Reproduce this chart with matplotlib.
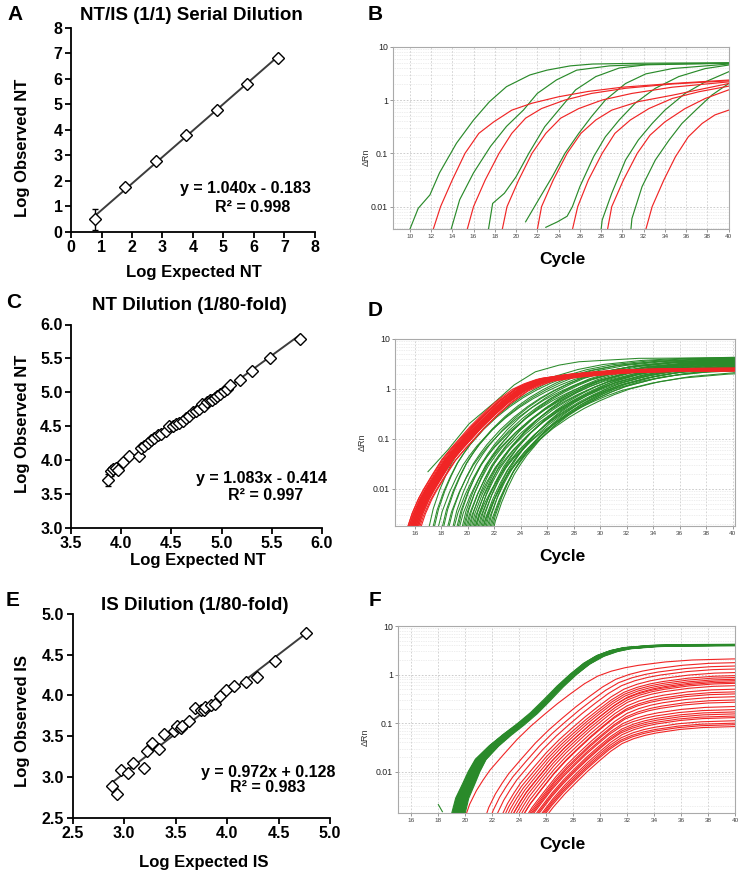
import numpy as np
import matplotlib
matplotlib.use("Agg")
import matplotlib.pyplot as plt
from matplotlib.ticker import LogLocator, NullFormatter

plt.rcParams['font.family'] = ['Liberation Sans', 'DejaVu Sans']

# ---------------- scatter data ----------------
a_expected = [0.78, 1.78, 2.78, 3.78, 4.78, 5.78, 6.78]
a_observed = [0.50, 1.75, 2.78, 3.80, 4.78, 5.80, 6.83]
a_err = [0.42, 0.08, 0.05, 0.05, 0.04, 0.04, 0.04]
a_fit = (1.040, -0.183)

c_expected = [3.87, 3.90, 3.92, 3.95, 3.97, 4.02, 4.08, 4.18, 4.20, 4.23, 4.27, 4.30, 4.33,
              4.37, 4.40, 4.45, 4.48, 4.52, 4.55, 4.58, 4.62, 4.65, 4.68, 4.72, 4.75, 4.77,
              4.80, 4.82, 4.85, 4.88, 4.90, 4.93, 4.95, 4.98, 5.02, 5.05, 5.08, 5.18, 5.30,
              5.48, 5.78]
c_observed = [3.70, 3.83, 3.87, 3.88, 3.85, 3.97, 4.05, 4.06, 4.18, 4.20, 4.25, 4.30, 4.32,
              4.36, 4.38, 4.42, 4.50, 4.50, 4.53, 4.55, 4.58, 4.62, 4.65, 4.70, 4.72, 4.75,
              4.82, 4.80, 4.85, 4.88, 4.88, 4.92, 4.95, 4.98, 5.02, 5.05, 5.10, 5.18, 5.32,
              5.50, 5.78]
c_err = [0.09, 0.07, 0.06, 0.06, 0.05, 0.04, 0.04, 0.03, 0.03, 0.03, 0.03, 0.03, 0.03,
         0.02, 0.02, 0.02, 0.02, 0.02, 0.02, 0.02, 0.02, 0.02, 0.02, 0.02, 0.02, 0.02,
         0.02, 0.02, 0.02, 0.02, 0.02, 0.02, 0.02, 0.02, 0.02, 0.02, 0.02, 0.03, 0.03,
         0.03, 0.02]
c_fit = (1.083, -0.414)

e_expected = [2.88, 2.93, 2.97, 3.04, 3.09, 3.19, 3.22, 3.27, 3.34, 3.39, 3.48, 3.51, 3.55,
              3.56, 3.63, 3.69, 3.75, 3.78, 3.79, 3.84, 3.88, 3.93, 3.99, 4.07, 4.18, 4.29,
              4.47, 4.77]
e_observed = [2.89, 2.79, 3.08, 3.05, 3.17, 3.11, 3.32, 3.41, 3.34, 3.52, 3.56, 3.62, 3.60,
              3.62, 3.69, 3.84, 3.82, 3.82, 3.86, 3.88, 3.90, 3.99, 4.07, 4.12, 4.16, 4.22,
              4.42, 4.77]
e_fit = (0.972, 0.128)

# ---------------- panel B amplification curves (cycle, dRn) ----------------
b_green_cycles = [
    [10.0, 10.8, 11.9, 12.8, 14.4, 16.0, 17.5, 19.1, 21.3, 22.9, 25.1, 27.2, 31.9, 40.0],
    [13.9, 14.7, 16.0, 17.6, 19.1, 20.7, 22.0, 23.8, 25.7, 28.8, 33.5, 40.0],
    [17.4, 17.8, 18.9, 20.0, 21.2, 22.7, 24.0, 25.6, 27.5, 29.7, 32.2, 40.0],
    [20.9, 22.1, 23.4, 24.6, 25.9, 27.1, 28.4, 30.3, 32.2, 34.7, 40.0],
    [22.8, 23.9, 24.8, 25.3, 26.0, 27.3, 28.4, 29.7, 31.2, 33.1, 35.3, 37.8, 40.0],
    [28.0, 28.1, 29.0, 30.3, 31.5, 32.8, 34.0, 35.9, 37.8, 40.0],
    [30.8, 30.9, 31.85, 33.1, 34.4, 35.6, 36.9, 38.4, 40.0],
]
b_green_values = [
    [0.0037, 0.0093, 0.0166, 0.043, 0.155, 0.42, 0.93, 1.78, 2.95, 3.63, 4.37, 4.73, 4.9, 5.0],
    [0.0038, 0.0135, 0.043, 0.135, 0.32, 0.65, 1.33, 2.38, 3.63, 4.37, 4.73, 4.9],
    [0.0037, 0.0115, 0.0178, 0.0363, 0.1, 0.316, 0.646, 1.55, 2.75, 3.98, 4.57, 4.9],
    [0.0052, 0.0133, 0.0363, 0.1, 0.237, 0.49, 1.0, 2.04, 3.09, 3.89, 4.73],
    [0.0041, 0.0052, 0.0066, 0.01, 0.0237, 0.087, 0.204, 0.422, 0.871, 1.66, 2.75, 3.89, 4.53],
    [0.0037, 0.0056, 0.0178, 0.075, 0.178, 0.363, 0.646, 1.33, 2.19, 3.39],
    [0.0037, 0.006, 0.0237, 0.075, 0.178, 0.363, 0.646, 1.23, 2.04],
]
b_red_cycles = [
    [12.2, 12.9, 14.0, 15.2, 16.5, 17.9, 19.6, 21.5, 24.0, 26.8, 30.0, 34.7, 40.0],
    [15.4, 16.0, 17.1, 18.4, 19.6, 20.9, 22.4, 24.6, 27.1, 30.3, 34.7, 40.0],
    [18.7, 19.15, 20.25, 21.5, 22.8, 24.2, 25.9, 28.1, 30.9, 34.7, 40.0],
    [22.0, 22.4, 23.5, 24.8, 26.1, 27.5, 29.0, 31.5, 34.7, 40.0],
    [25.3, 25.8, 26.8, 28.1, 29.3, 30.75, 32.5, 34.7, 37.2, 40.0],
    [28.6, 29.0, 30.1, 31.4, 32.6, 34.0, 35.9, 37.8, 40.0],
    [32.2, 32.8, 33.9, 35.0, 36.2, 37.5, 38.7, 40.0],
]
b_red_values = [
    [0.0037, 0.01, 0.0316, 0.1, 0.237, 0.389, 0.646, 0.871, 1.15, 1.45, 1.74, 2.04, 2.37],
    [0.0037, 0.01, 0.0316, 0.1, 0.237, 0.457, 0.692, 1.0, 1.33, 1.66, 2.0, 2.29],
    [0.0037, 0.01, 0.0316, 0.1, 0.237, 0.457, 0.692, 1.0, 1.33, 1.74, 2.19],
    [0.0037, 0.01, 0.0316, 0.1, 0.237, 0.422, 0.646, 0.933, 1.23, 2.04],
    [0.0037, 0.01, 0.0316, 0.1, 0.237, 0.422, 0.692, 1.07, 1.43, 1.82],
    [0.0037, 0.01, 0.0316, 0.1, 0.219, 0.389, 0.692, 1.07, 1.55],
    [0.0037, 0.01, 0.0316, 0.087, 0.204, 0.363, 0.525, 0.646],
]

# ---------------- panels D / F: curve shapes (log10 dRn relative to plateau) ----------------
d_green_shape_dc = [0, 0.5, 1, 1.5, 2, 2.5, 3, 4, 5, 6, 7, 8, 9, 10, 12, 14, 17, 20, 25, 30, 40]
d_green_shape_g = [-3.6, -3.05, -2.68, -2.38, -2.12, -1.92, -1.74, -1.44, -1.19, -0.98, -0.8,
                   -0.65, -0.52, -0.41, -0.26, -0.16, -0.08, -0.04, -0.012, -0.004, 0]
d_red_shape_dc = [0, 0.5, 1.0, 1.4, 2.0, 2.8, 3.5, 4.15, 5, 6, 7, 8.3, 9.2, 10.2, 12.2, 14.2,
                  16.2, 20, 25, 40]
d_red_shape_g = [-3.3, -2.9, -2.6, -2.41, -2.15, -1.82, -1.6, -1.41, -1.16, -0.9, -0.66, -0.41,
                 -0.3, -0.21, -0.13, -0.08, -0.04, -0.012, -0.003, 0]
f_green_shape_dc = [0, 0.4, 0.9, 1.3, 1.8, 2.8, 3.8, 4.8, 5.8, 6.8, 7.8, 8.8, 9.8, 10.8, 11.8,
                    12.8, 14.8, 16.8, 20.8, 26, 40]
f_green_shape_g = [-3.6, -3.16, -2.86, -2.61, -2.36, -2.08, -1.85, -1.64, -1.41, -1.14, -0.86,
                   -0.61, -0.39, -0.23, -0.13, -0.07, -0.025, -0.01, -0.003, -0.001, 0]
f_red_shape_dc = [0, 0.5, 1, 1.5, 2, 3, 4, 5, 6, 7, 8, 9, 10, 11, 12, 13, 15, 17, 20, 25, 40]
f_red_shape_g = [-3.4, -3.0, -2.72, -2.5, -2.3, -1.98, -1.67, -1.40, -1.16, -0.93, -0.72, -0.52,
                 -0.36, -0.26, -0.19, -0.14, -0.07, -0.03, -0.008, -0.002, 0]

# per curve: cycle where it leaves the axis bottom, dRn at cycle 40, horizontal stretch
d_green_start = [17.1, 17.4, 17.5, 17.8, 18.1, 18.2, 18.5, 18.6, 18.9, 19.0, 19.2, 19.3, 19.4,
                 19.6, 19.7, 19.8, 19.9, 20.0, 20.1, 20.2, 20.3, 20.4, 20.5, 20.6, 20.7, 20.8,
                 20.9, 21.0, 21.1, 21.2, 21.3, 21.4, 21.5, 21.6, 21.7, 21.8, 21.9, 22.0, 21.2,
                 20.6]
d_green_end = [4.3, 4.0, 4.2, 3.7, 4.0, 4.1, 3.5, 3.9, 3.8, 3.3, 3.7, 3.9, 3.2, 3.6, 3.4, 3.8,
               3.1, 3.5, 2.9, 3.6, 3.2, 2.8, 3.4, 3.0, 3.5, 2.7, 3.2, 2.9, 3.3, 2.6, 2.5, 3.0,
               2.7, 3.1, 2.4, 2.6, 2.8, 2.3, 2.1, 2.0]
d_green_stretch = [0.95, 1.0, 0.97, 1.05, 1.0, 0.96, 1.08, 1.02, 0.98, 1.1, 1.04, 0.97, 1.12,
                   1.0, 1.06, 0.96, 1.1, 1.03, 1.14, 0.98, 1.07, 1.12, 1.0, 1.09, 0.96, 1.13,
                   1.04, 1.1, 0.98, 1.06, 1.12, 1.0, 1.08, 0.95, 1.05, 1.0, 0.97, 0.95, 1.15,
                   1.15]
d_lead_cycles = [17.0, 18.5, 20.1, 22.1, 23.5, 25.1, 26.9, 28.4, 32.9, 40.0]
d_lead_values = [0.022, 0.06, 0.2, 0.56, 1.2, 2.2, 3.0, 3.5, 4.1, 4.2]

d_red_start = [15.5, 15.5, 15.6, 15.6, 15.6, 15.7, 15.7, 15.7, 15.8, 15.8, 15.8, 15.8, 15.9,
               15.9, 15.9, 15.9, 16.0, 16.0, 16.0, 16.0, 16.1, 16.1, 16.1, 16.2, 16.2, 16.2,
               16.3, 16.3, 16.4, 16.5]
d_red_end = [2.6, 2.5, 2.4, 2.55, 2.35, 2.5, 2.45, 2.3, 2.6, 2.4, 2.5, 2.35, 2.55, 2.45, 2.3,
             2.5, 2.4, 2.6, 2.35, 2.45, 2.5, 2.3, 2.4, 2.55, 2.45, 2.35, 2.5, 2.4, 2.3, 2.45]
d_red_stretch = [1.0, 0.97, 1.02, 0.99, 1.03, 0.98, 1.01, 1.0, 0.97, 1.02, 0.99, 1.03, 1.0,
                 0.98, 1.01, 0.97, 1.02, 1.0, 0.99, 1.03, 0.98, 1.01, 1.0, 0.97, 1.02, 0.99,
                 1.0, 0.98, 1.01, 1.0]

f_green_start = [19.0, 19.05, 19.1, 19.1, 19.15, 19.2, 19.2, 19.25, 19.3, 19.3, 19.35, 19.4,
                 19.4, 19.45, 19.5, 19.5, 19.55, 19.6, 19.6, 19.65, 19.7, 19.7, 19.75, 19.8,
                 19.8, 19.85, 19.9, 19.9, 19.95, 20.0, 19.2, 19.4, 19.6, 19.3, 19.5, 19.7,
                 19.1, 19.8, 19.45, 19.55]
f_green_end = [4.1, 4.0, 4.15, 4.05, 4.1, 4.0, 4.2, 4.05, 4.1, 3.95, 4.1, 4.05, 4.15, 4.0,
               4.1, 4.05, 3.95, 4.1, 4.0, 4.15, 4.05, 4.1, 4.0, 4.1, 3.95, 4.05, 4.1, 4.0,
               4.15, 4.05, 4.1, 4.0, 4.05, 4.1, 4.0, 4.15, 4.05, 4.0, 4.1, 4.05]
f_green_stretch = [1.04, 1.03, 1.03, 1.05, 1.02, 1.02, 0.99, 1.01, 1.0, 1.02, 1.0, 0.99, 0.97,
                   0.99, 0.98, 1.0, 0.98, 0.97, 0.95, 0.96, 0.96, 0.98, 0.95, 0.95, 0.92,
                   0.94, 0.94, 0.96, 0.93, 0.92, 1.02, 0.99, 0.97, 0.99, 0.97, 0.95, 1.02,
                   0.96, 0.99, 0.98]
f_green_stub_cycles = [18.0, 18.3]
f_green_stub_values = [0.0021, 0.0015]

f_red_start = [20.1, 21.6, 22.0, 22.4, 22.8, 23.0, 23.2, 23.4, 23.6, 23.6, 23.8, 24.0, 24.2,
               24.4, 24.4, 24.7, 24.8, 24.9, 25.0, 25.1, 25.3, 25.4, 25.5, 25.7, 25.8, 25.9,
               26.0, 26.2]
f_red_end = [2.1, 1.76, 1.5, 1.3, 1.1, 0.95, 0.87, 0.8, 0.75, 0.7, 0.66, 0.59, 0.5, 0.44, 0.40,
             0.35, 0.30, 0.27, 0.22, 0.19, 0.17, 0.155, 0.14, 0.13, 0.112, 0.1, 0.093, 0.085]
f_red_stretch = [1.0, 0.99, 0.98, 0.97, 0.96, 0.95, 0.94, 0.93, 0.93, 0.92, 0.92, 0.91, 0.9,
                 0.89, 0.89, 0.88, 0.88, 0.87, 0.87, 0.86, 0.86, 0.86, 0.85, 0.85, 0.85, 0.85,
                 0.85, 0.85]

# ---------------- figure ----------------
W, H = 744, 876
fig = plt.figure(figsize=(W / 100, H / 100), dpi=100)


def add_ax(x0, y0, x1, y1):
    return fig.add_axes([x0 / W, 1 - y1 / H, (x1 - x0) / W, (y1 - y0) / H])


def ftext(x, y, s, **kw):
    kw.setdefault('ha', 'center')
    kw.setdefault('va', 'center')
    fig.text(x / W, 1 - y / H, s, **kw)


def scatter_panel(box, xs, ys, yerr, fit, xlim, ylim, ticks, fmt):
    ax = add_ax(*box)
    ax.set_xlim(xlim)
    ax.set_ylim(ylim)
    xx = np.array([min(xs), max(xs)])
    ax.plot(xx, fit[0] * xx + fit[1], color='#3c3c3c', lw=1.4, zorder=2)
    if yerr is not None:
        ax.errorbar(xs, ys, yerr=yerr, fmt='none', ecolor='black', elinewidth=1.0,
                    capsize=2.5, capthick=1.0, zorder=3)
    ax.plot(xs, ys, ls='none', marker='D', ms=6.6, mfc='white', mec='black', mew=1.0,
            zorder=4, clip_on=False)
    ax.set_xticks(ticks[0])
    ax.set_yticks(ticks[1])
    ax.set_xticklabels([fmt.format(t) for t in ticks[0]])
    ax.set_yticklabels([fmt.format(t) for t in ticks[1]])
    for lab in ax.get_xticklabels() + ax.get_yticklabels():
        lab.set_fontweight('bold')
        lab.set_fontsize(11.5)
    ax.tick_params(direction='out', length=4, width=1.3, pad=2)
    for s in ['top', 'right']:
        ax.spines[s].set_visible(False)
    for s in ['left', 'bottom']:
        ax.spines[s].set_linewidth(1.3)
    ax.patch.set_alpha(0)
    return ax


def amp_axes(box, xlim, ylim, xticks):
    ax = add_ax(*box)
    ax.set_yscale('log')
    ax.set_xlim(xlim)
    ax.set_ylim(ylim)
    ax.set_xticks(xticks)
    ax.set_xticklabels([str(t) for t in xticks], fontsize=4.6, color='#444444')
    ax.set_yticks([0.01, 0.1, 1, 10])
    ax.set_yticklabels(['0.01', '0.1', '1', '10'], fontsize=6.3, color='#222222')
    ax.yaxis.set_minor_locator(LogLocator(base=10, subs=np.arange(2, 10)))
    ax.yaxis.set_minor_formatter(NullFormatter())
    ax.grid(True, which='major', axis='x', color='#cccccc', ls=(0, (2, 2)), lw=0.6)
    ax.grid(True, which='major', axis='y', color='#c4c4c4', ls=(0, (2, 2)), lw=0.6)
    ax.grid(True, which='minor', axis='y', color='#dddddd', ls=(0, (1, 1.5)), lw=0.5)
    ax.tick_params(which='minor', length=0)
    ax.tick_params(which='major', length=2, width=0.6, color='#888888', pad=1.5)
    ax.set_axisbelow(True)
    for sp in ax.spines.values():
        sp.set_color('#aaaaaa')
        sp.set_linewidth(0.8)
    return ax


def shaped_curve(t_dc, t_g, start, end, stretch, bottom):
    t_dc = np.asarray(t_dc, float)
    t_g = np.asarray(t_g, float)
    lb, le = np.log10(bottom), np.log10(end)
    lp = le
    c0 = start
    for _ in range(6):
        c0 = start - np.interp(lb - lp, t_g, t_dc) * stretch
        lp = le - np.interp((40 - c0) / stretch, t_dc, t_g)
    return c0 + t_dc * stretch, 10 ** (lp + t_g)


GREEN = '#2a8a2a'
RED = '#f02525'
LW = 0.85

# ---- A ----
scatter_panel((71, 27.7, 315, 232), a_expected, a_observed, a_err, a_fit, (0, 8), (0, 8),
              (list(range(0, 9)), list(range(0, 9))), '{:d}')
ftext(15, 15, 'A', fontsize=15, fontweight='bold')
ftext(191, 15, 'NT/IS (1/1) Serial Dilution', fontsize=13.5, fontweight='bold')
ftext(194, 272, 'Log Expected NT', fontsize=12, fontweight='bold')
ftext(23, 148, 'Log Observed NT', fontsize=12, fontweight='bold', rotation=90)
ftext(245, 188, 'y = 1.040x - 0.183', fontsize=11.5, fontweight='bold')
ftext(253, 207, 'R² = 0.998', fontsize=11.5, fontweight='bold')

# ---- C ----
scatter_panel((71, 324.5, 322, 527.5), c_expected, c_observed, c_err, c_fit, (3.5, 6.0),
              (3.0, 6.0), ([3.5, 4.0, 4.5, 5.0, 5.5, 6.0], [3.0, 3.5, 4.0, 4.5, 5.0, 5.5, 6.0]),
              '{:.1f}')
ftext(14, 302, 'C', fontsize=15, fontweight='bold')
ftext(189, 305, 'NT Dilution (1/80-fold)', fontsize=13.5, fontweight='bold')
ftext(198, 560, 'Log Expected NT', fontsize=12, fontweight='bold')
ftext(23, 424, 'Log Observed NT', fontsize=12, fontweight='bold', rotation=90)
ftext(262, 478, 'y = 1.083x - 0.414', fontsize=11.5, fontweight='bold')
ftext(266, 496, 'R² = 0.997', fontsize=11.5, fontweight='bold')

# ---- E ----
scatter_panel((72.7, 614, 330, 817.5), e_expected, e_observed, None, e_fit, (2.5, 5.0),
              (2.5, 5.0), ([2.5, 3.0, 3.5, 4.0, 4.5, 5.0], [2.5, 3.0, 3.5, 4.0, 4.5, 5.0]),
              '{:.1f}')
ftext(13, 600, 'E', fontsize=15, fontweight='bold')
ftext(195, 605, 'IS Dilution (1/80-fold)', fontsize=13.5, fontweight='bold')
ftext(204, 863, 'Log Expected IS', fontsize=12, fontweight='bold')
ftext(23, 721, 'Log Observed IS', fontsize=12, fontweight='bold', rotation=90)
ftext(268, 772, 'y = 0.972x + 0.128', fontsize=11.5, fontweight='bold')
ftext(268, 787, 'R² = 0.983', fontsize=11.5, fontweight='bold')

# ---- B ----
axB = amp_axes((392.7, 46.7, 728.7, 229.3), (8.4, 40), (0.00376, 10), list(range(10, 41, 2)))
for cyc, val in zip(b_green_cycles, b_green_values):
    axB.plot(cyc, val, color=GREEN, lw=LW)
for cyc, val in zip(b_red_cycles, b_red_values):
    axB.plot(cyc, val, color=RED, lw=LW)
ftext(375, 15, 'B', fontsize=15, fontweight='bold')
ftext(562, 260, 'Cycle', fontsize=12.5, fontweight='bold')
ftext(366, 157, 'ΔRn', fontsize=6.5, rotation=90, color='#333333')

# ---- D ----
d_bottom = 0.0018
axD = amp_axes((394.7, 339, 734.7, 526), (14.49, 40.15), (d_bottom, 10), list(range(16, 41, 2)))
for s, e, k in zip(d_green_start, d_green_end, d_green_stretch):
    cyc, val = shaped_curve(d_green_shape_dc, d_green_shape_g, s, e, k, d_bottom)
    axD.plot(cyc, val, color=GREEN, lw=0.75)
axD.plot(d_lead_cycles, d_lead_values, color=GREEN, lw=0.75)
for s, e, k in zip(d_red_start, d_red_end, d_red_stretch):
    cyc, val = shaped_curve(d_red_shape_dc, d_red_shape_g, s, e, k, d_bottom)
    axD.plot(cyc, val, color=RED, lw=0.8)
ftext(375, 310, 'D', fontsize=15, fontweight='bold')
ftext(562, 556, 'Cycle', fontsize=12.5, fontweight='bold')
ftext(362, 442, 'ΔRn', fontsize=6.5, rotation=90, color='#333333')

# ---- F ----
f_bottom = 0.00143
axF = amp_axes((398, 626, 735.3, 812.7), (15.01, 40), (f_bottom, 10), list(range(16, 41, 2)))
for s, e, k in zip(f_red_start, f_red_end, f_red_stretch):
    cyc, val = shaped_curve(f_red_shape_dc, f_red_shape_g, s, e, k, f_bottom)
    axF.plot(cyc, val, color=RED, lw=0.8)
for s, e, k in zip(f_green_start, f_green_end, f_green_stretch):
    cyc, val = shaped_curve(f_green_shape_dc, f_green_shape_g, s, e, k, f_bottom)
    axF.plot(cyc, val, color=GREEN, lw=0.8)
axF.plot(f_green_stub_cycles, f_green_stub_values, color=GREEN, lw=0.8)
ftext(375, 600, 'F', fontsize=15, fontweight='bold')
ftext(562, 845, 'Cycle', fontsize=12.5, fontweight='bold')
ftext(365, 737, 'ΔRn', fontsize=6.5, rotation=90, color='#333333')

fig.savefig('out.png', dpi=100)
